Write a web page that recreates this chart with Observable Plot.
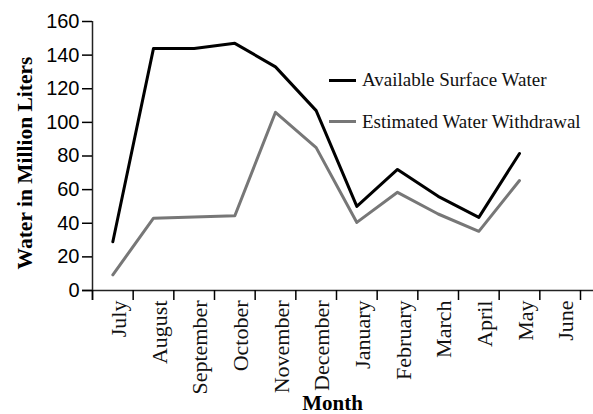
<!DOCTYPE html>
<html>
<head>
<meta charset="utf-8">
<script src="https://cdn.jsdelivr.net/npm/d3@7"></script>
<script src="https://cdn.jsdelivr.net/npm/@observablehq/plot@0.6"></script>
<style>
  html, body { margin: 0; padding: 0; background: #fff; }
  #wrap { position: relative; width: 593px; height: 414px; }
  #legend { position: absolute; left: 329px; top: 59.5px; font-family: "Liberation Serif", serif; font-size: 19px; color: #111; }
  .item { display: flex; align-items: center; height: 41.5px; }
  .swatch { width: 27px; height: 3px; margin-right: 6px; }
</style>
</head>
<body>
<div id="wrap"></div>
<script>
const months = ["July","August","September","October","November","December","January","February","March","April","May","June"];
const available = [29, 144, 144, 147, 133, 107, 50, 72, 56, 43.5, 81.5];
const withdrawal = [9.3, 43, 43.7, 44.5, 106, 85, 40.5, 58.4, 45.5, 35.2, 65.4];
const yTicks = [0, 20, 40, 60, 80, 100, 120, 140, 160];
const yTitle = "Water in Million Liters";
const xTitle = "Month";
const series = [
  {name: "Available Surface Water", color: "#000000", values: available},
  {name: "Estimated Water Withdrawal", color: "#777777", values: withdrawal}
];

const rows = series.flatMap(s => s.values.map((v, i) => ({series: s.name, month: i, value: v})));
const serif = "Liberation Serif, DejaVu Serif, serif";

const chart = Plot.plot({
  width: 593,
  height: 414,
  marginLeft: 92,
  marginRight: 13,
  marginTop: 21,
  marginBottom: 124,
  x: {type: "linear", domain: [0, months.length]},
  y: {domain: [0, 160]},
  color: {domain: series.map(s => s.name), range: series.map(s => s.color)},
  marks: [
    Plot.ruleY([0], {stroke: "#222", strokeWidth: 1.5, insetLeft: -10, insetRight: -13}),
    Plot.ruleX([0], {stroke: "#222", strokeWidth: 1.5, insetBottom: -10}),
    Plot.axisY({ticks: yTicks, tickSize: 10, tickPadding: 3, strokeWidth: 1.5, fontSize: 20,
      fontFamily: "Liberation Sans, Arial, sans-serif", fill: "#000", label: null}),
    Plot.axisX({ticks: d3.range(months.length + 1), tickSize: 10, strokeWidth: 1.5, tickFormat: () => "", label: null}),
    Plot.text(months, {x: (d, i) => i + 0.5, y: () => 0, text: d => d, rotate: -90, textAnchor: "end",
      dy: 10, dx: 6, fontSize: 22, fontFamily: serif, fill: "#111"}),
    Plot.text([yTitle], {frameAnchor: "left", textAnchor: "middle", rotate: -90, text: d => d, dx: -67, dy: 7,
      fontSize: 21.5, fontWeight: "bold", fontFamily: serif, fill: "#000"}),
    Plot.text([xTitle], {frameAnchor: "bottom", textAnchor: "middle", text: d => d, dx: -4, dy: 119, lineAnchor: "bottom",
      fontSize: 21, fontWeight: "bold", fontFamily: serif, fill: "#000"}),
    Plot.lineY(rows, {x: d => d.month + 0.5, y: "value", z: "series", stroke: "series", strokeWidth: 3})
  ]
});
document.getElementById("wrap").appendChild(chart);

const legend = document.createElement("div");
legend.id = "legend";
for (const s of series) {
  const item = document.createElement("div");
  item.className = "item";
  const sw = document.createElement("div");
  sw.className = "swatch";
  sw.style.background = s.color;
  const t = document.createElement("span");
  t.textContent = s.name;
  item.appendChild(sw);
  item.appendChild(t);
  legend.appendChild(item);
}
document.getElementById("wrap").appendChild(legend);
</script>
</body>
</html>
